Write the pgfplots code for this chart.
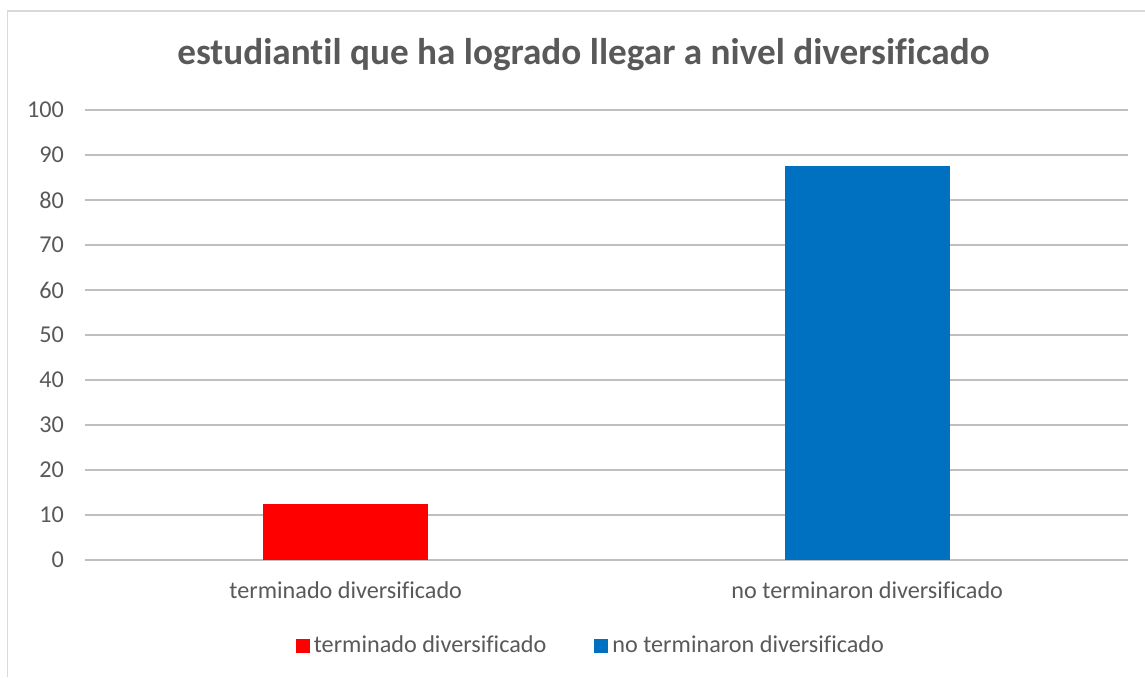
\documentclass[border=0pt]{standalone}
\usepackage{pgfplots}
\pgfplotsset{compat=1.18}
\usepackage{fontspec}
\setmainfont[Ligatures={NoCommon,NoContextual}]{Carlito}
\definecolor{txt}{HTML}{595959}
\definecolor{grid}{HTML}{D9D9D9}
\definecolor{rbar}{HTML}{FF0000}
\definecolor{bbar}{HTML}{0070C0}
\begin{document}
\begin{tikzpicture}
\path[use as bounding box] (0,0) rectangle (572.5pt,338.5pt);
\draw[grid, line width=0.6pt] (3.75pt,0) -- (3.75pt,333pt) -- (572.5pt,333pt);
\node[font=\bfseries\fontsize{18.6}{22}\selectfont, text=txt] at (291.7pt,311pt) {estudiantil que ha logrado llegar a nivel diversificado};
\begin{axis}[
  at={(42.5pt,58.5pt)}, anchor=south west,
  scale only axis, width=521.5pt, height=225pt,
  xmin=-0.5, xmax=1.5, ymin=0, ymax=100,
  ytick={0,10,...,100},
  xtick={0,1},
  xticklabels={terminado diversificado, no terminaron diversificado},
  axis line style={draw=none},
  major tick length=0pt, tick style={draw=none},
  xmajorgrids=false, ymajorgrids=true, grid style={grid, line width=0.8pt},
  tick label style={text=txt, font=\fontsize{12.1}{14}\selectfont},
  /pgf/number format/assume math mode=true,
  yticklabel style={xshift=-7pt},
  xticklabel style={yshift=-7.5pt},
  ybar, bar width=82.5pt, bar shift=0pt,
  legend style={at={(0.486,-0.19)}, anchor=center, draw=none, fill=none,
    legend columns=2, font=\fontsize{12.1}{14}\selectfont, text=txt,
    /tikz/every even column/.append style={column sep=22pt}},
  legend cell align=left,
]
\addplot[fill=rbar, draw=none, legend image code/.code={\fill[rbar] (4pt,-3.5pt) rectangle (11pt,3.5pt);}] coordinates {(0,12.5)};
\addlegendentry{terminado diversificado}
\addplot[fill=bbar, draw=none, legend image code/.code={\fill[bbar] (4pt,-3.5pt) rectangle (11pt,3.5pt);}] coordinates {(1,87.5)};
\addlegendentry{no terminaron diversificado}
\end{axis}
\end{tikzpicture}
\end{document}
